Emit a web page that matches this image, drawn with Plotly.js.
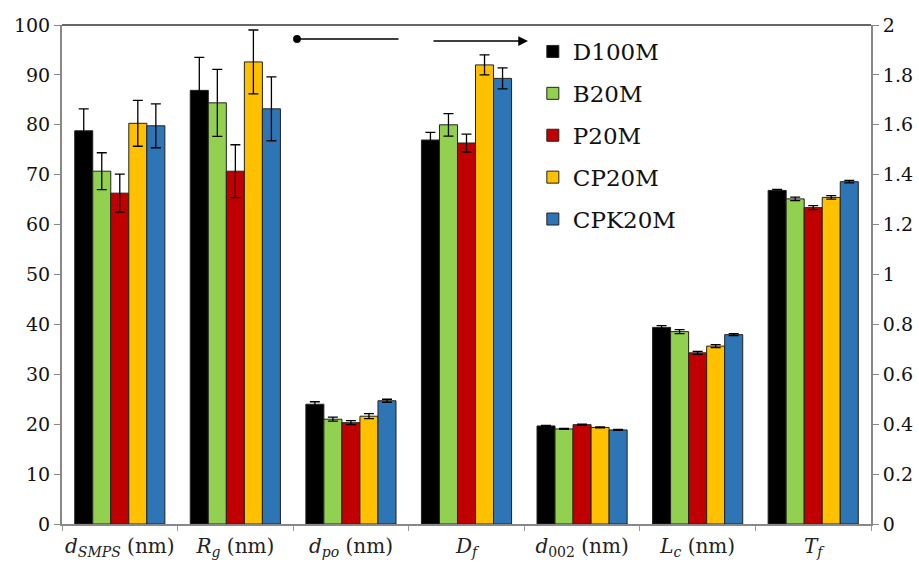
<!DOCTYPE html>
<html>
<head>
<meta charset="utf-8">
<script src="https://cdn.plot.ly/plotly-3.0.1.min.js"></script>
<style>html,body{margin:0;padding:0;background:#fff;}#chart{width:919px;height:562px;}</style>
</head>
<body>
<div id="chart"></div>
<script>
// Categories
const leftCategories = ['<i>d</i><sub><i>SMPS</i></sub> (nm)', '<i>R</i><sub><i>g</i></sub> (nm)', '<i>d</i><sub><i>po</i></sub> (nm)'];
const rightCategories = ['<i>D</i><sub><i>f</i></sub>', '<i>d</i><sub>002</sub> (nm)', '<i>L</i><sub><i>c</i></sub> (nm)', '<i>T</i><sub><i>f</i></sub>'];
const seriesNames = ['D100M', 'B20M', 'P20M', 'CP20M', 'CPK20M'];
const seriesColors = ['#000000', '#92D050', '#C00000', '#FFC000', '#2E75B6'];

// Left-axis values (0-100): dSMPS, Rg, dpo
const leftD100M = [78.8, 86.9, 24.0];
const leftB20M  = [70.7, 84.4, 21.0];
const leftP20M  = [66.3, 70.7, 20.3];
const leftCP20M = [80.3, 92.6, 21.6];
const leftCPK20M= [79.8, 83.2, 24.7];
const leftErrD100M = [4.4, 6.6, 0.5];
const leftErrB20M  = [3.7, 6.7, 0.4];
const leftErrP20M  = [3.8, 5.3, 0.4];
const leftErrCP20M = [4.6, 6.4, 0.5];
const leftErrCPK20M= [4.4, 6.4, 0.3];

// Right-axis values (0-2): Df, d002, Lc, Tf
const rightD100M = [1.539, 0.393, 0.788, 1.337];
const rightB20M  = [1.600, 0.381, 0.771, 1.303];
const rightP20M  = [1.527, 0.398, 0.686, 1.268];
const rightCP20M = [1.840, 0.387, 0.713, 1.309];
const rightCPK20M= [1.786, 0.377, 0.759, 1.372];
const rightErrD100M = [0.031, 0.002, 0.007, 0.004];
const rightErrB20M  = [0.045, 0.002, 0.008, 0.007];
const rightErrP20M  = [0.036, 0.002, 0.006, 0.008];
const rightErrCP20M = [0.040, 0.002, 0.006, 0.007];
const rightErrCPK20M= [0.042, 0.002, 0.004, 0.005];

const leftVals = [leftD100M, leftB20M, leftP20M, leftCP20M, leftCPK20M];
const leftErrs = [leftErrD100M, leftErrB20M, leftErrP20M, leftErrCP20M, leftErrCPK20M];
const rightVals = [rightD100M, rightB20M, rightP20M, rightCP20M, rightCPK20M];
const rightErrs = [rightErrD100M, rightErrB20M, rightErrP20M, rightErrCP20M, rightErrCPK20M];

const serif = 'DejaVu Serif, Liberation Serif, serif';
const traces = [];
seriesNames.forEach((name, i) => {
  traces.push({
    type: 'bar', name: name, x: leftCategories, y: leftVals[i],
    xaxis: 'x', yaxis: 'y', legendgroup: name, showlegend: true,
    marker: {color: seriesColors[i], line: {color: '#222', width: 1}},
    error_y: {type: 'data', array: leftErrs[i], visible: true, color: '#000', thickness: 1.3, width: 5}
  });
});
seriesNames.forEach((name, i) => {
  traces.push({
    type: 'bar', name: name, x: rightCategories, y: rightVals[i],
    xaxis: 'x', yaxis: 'y2', legendgroup: name, showlegend: false,
    marker: {color: seriesColors[i], line: {color: '#222', width: 1}},
    error_y: {type: 'data', array: rightErrs[i], visible: true, color: '#000', thickness: 1.3, width: 5}
  });
});

const layout = {
  width: 919, height: 562,
  margin: {l: 62, r: 48, t: 25, b: 38, pad: 0},
  paper_bgcolor: '#fff', plot_bgcolor: '#fff',
  barmode: 'group', bargap: 0.22, bargroupgap: 0,
  font: {family: serif, color: '#111', size: 18},
  showlegend: true,
  legend: {x: 0.582, y: 0.99, xanchor: 'left', yanchor: 'top', font: {family: serif, size: 23, color: '#111'},
           traceorder: 'grouped', tracegroupgap: 9, bgcolor: 'rgba(0,0,0,0)'},
  xaxis: {type: 'category', categoryorder: 'array', categoryarray: leftCategories.concat(rightCategories),
          showline: true, linecolor: '#888', linewidth: 2, mirror: false, tickangle: 0, automargin: false,
          ticks: 'outside', tickson: 'boundaries', ticklen: 5, tickcolor: '#999', tickwidth: 1,
          ticklabelstandoff: 3,
          tickfont: {family: serif, size: 20, color: '#222'}, showgrid: false},
  yaxis: {range: [0, 100], dtick: 10, showline: true, linecolor: '#888', linewidth: 2,
          ticks: 'outside', ticklen: 6, tickcolor: '#888', showgrid: false, zeroline: false,
          tickfont: {family: serif, size: 19, color: '#111'}},
  yaxis2: {range: [0, 2], dtick: 0.2, overlaying: 'y', side: 'right', showline: true, linecolor: '#888', linewidth: 2,
           ticks: 'outside', ticklen: 6, tickcolor: '#888', showgrid: false, zeroline: false,
           tickfont: {family: serif, size: 19, color: '#111'}},
  shapes: [
    {type: 'line', xref: 'paper', yref: 'paper', x0: 0, x1: 1, y0: 1, y1: 1, line: {color: '#333', width: 1.5}}
  ],
  annotations: [
    {xref: 'paper', yref: 'paper', x: (297 - 62) / 809, y: (524 - 39) / 499, ax: 103, ay: 0, axref: 'pixel', ayref: 'pixel',
     text: '', showarrow: true, arrowhead: 6, arrowsize: 1.3, arrowwidth: 1.5, arrowcolor: '#000'},
    {xref: 'paper', yref: 'paper', x: (528 - 62) / 809, y: (524 - 41) / 499, ax: -96, ay: 0, axref: 'pixel', ayref: 'pixel',
     text: '', showarrow: true, arrowhead: 2, arrowsize: 1.3, arrowwidth: 1.5, arrowcolor: '#000'}
  ]
};

Plotly.newPlot('chart', traces, layout, {displayModeBar: false, staticPlot: true});
</script>
</body>
</html>
